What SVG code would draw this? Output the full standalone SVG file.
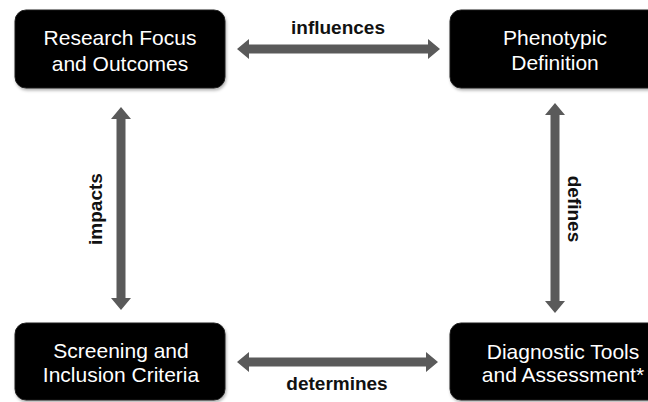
<svg xmlns="http://www.w3.org/2000/svg" width="648" height="402" viewBox="0 0 648 402">
<style>
.box{fill:#000;stroke:#222;stroke-width:1}
.nt{fill:#fff;font-family:"Liberation Sans",Arial,sans-serif;font-size:21px;text-anchor:middle}
.lbl{fill:#111;font-family:"Liberation Sans",Arial,sans-serif;font-size:19px;font-weight:bold;text-anchor:middle}
.arr{fill:#5a5a5a}
</style>
<defs>
<filter id="sh" x="-10%" y="-10%" width="130%" height="130%">
<feDropShadow dx="1" dy="2" stdDeviation="1.5" flood-color="#000" flood-opacity="0.3"/>
</filter>
</defs>
<rect width="648" height="402" fill="#fff"/>
<g id="connectors">
<path class="arr" d="M237,49 L249,39 L249,44.5 L428,44.5 L428,39 L440,49 L428,59 L428,53.5 L249,53.5 L249,59 Z"/>
<path class="arr" d="M237,362 L249,352 L249,357.5 L426,357.5 L426,352 L438,362 L426,372 L426,366.5 L249,366.5 L249,372 Z"/>
<path class="arr" d="M121,107 L131,119 L125.5,119 L125.5,298 L131,298 L121,310 L111,298 L116.5,298 L116.5,119 L111,119 Z"/>
<path class="arr" d="M555,103 L565,115 L559.5,115 L559.5,301 L565,301 L555,313 L545,301 L550.5,301 L550.5,115 L545,115 Z"/>
<text class="lbl" x="338" y="34">influences</text>
<text class="lbl" x="337" y="390">determines</text>
<text class="lbl" transform="translate(102,209) rotate(-90)">impacts</text>
<text class="lbl" transform="translate(568,209) rotate(90)">defines</text>
</g>
<g id="node-research">
<rect class="box" x="15" y="10" width="210" height="78" rx="11" filter="url(#sh)"/>
<text class="nt" x="120" y="45">Research Focus</text>
<text class="nt" x="120" y="71">and Outcomes</text>
</g>
<g id="node-phenotypic">
<rect class="box" x="450" y="10" width="210" height="78" rx="11" filter="url(#sh)"/>
<text class="nt" x="555" y="45">Phenotypic</text>
<text class="nt" x="555" y="70">Definition</text>
</g>
<g id="node-screening">
<rect class="box" x="15" y="323" width="210" height="77" rx="11" filter="url(#sh)"/>
<text class="nt" x="121" y="358">Screening and</text>
<text class="nt" x="121" y="382">Inclusion Criteria</text>
</g>
<g id="node-diagnostic">
<rect class="box" x="450" y="323" width="210" height="77" rx="11" filter="url(#sh)"/>
<text class="nt" x="563" y="359">Diagnostic Tools</text>
<text class="nt" x="563" y="382">and Assessment*</text>
</g>
</svg>
